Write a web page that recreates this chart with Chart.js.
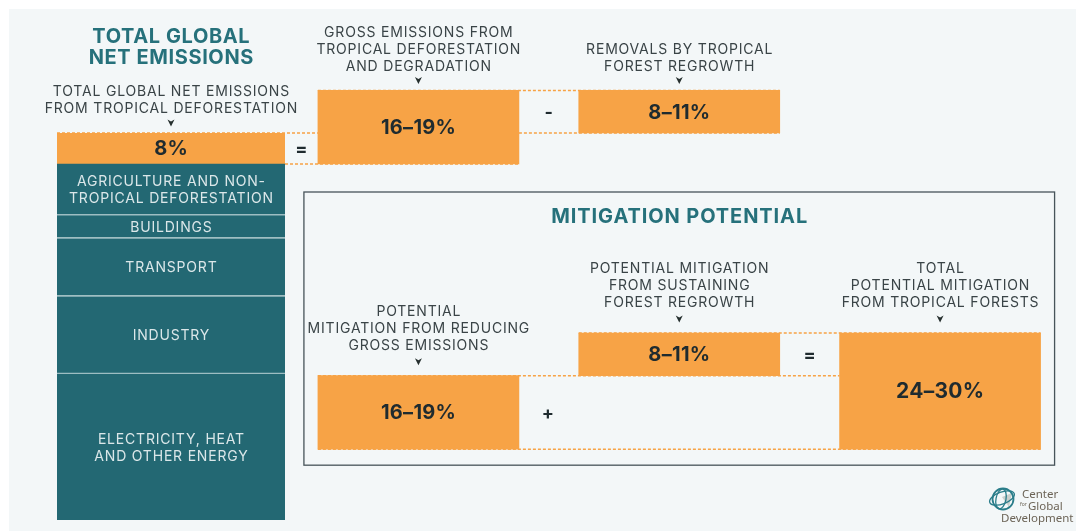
<!DOCTYPE html>
<html><head><meta charset="utf-8">
<script src="https://cdn.jsdelivr.net/npm/chart.js@4"></script>
<style>
html,body{margin:0;padding:0;background:#fff;width:1076px;height:531px;overflow:hidden}
#panel{position:absolute;left:9px;top:9px;width:1067px;height:522px;background:#f3f7f8}
canvas{position:absolute;left:0;top:0}
</style></head><body>
<div id="panel"></div>
<canvas id="a" width="1076" height="531"></canvas>
<canvas id="b" width="1076" height="531"></canvas>
<script>
// ---------------- DATA ----------------
const SECTOR_LABELS = [
  'ELECTRICITY, HEAT\nAND OTHER ENERGY',
  'INDUSTRY',
  'TRANSPORT',
  'BUILDINGS',
  'AGRICULTURE AND NON-\nTROPICAL DEFORESTATION'
];
const SECTOR_SHARES = [38, 20, 15, 6, 13];          // % of total global net emissions
const NET_DEFOR_SHARE = 8;                          // % net emissions from tropical deforestation
const GROSS_EMISSIONS_RANGE = [16, 19];             // %
const REGROWTH_REMOVALS_RANGE = [8, 11];            // %
const REDUCTION_MITIGATION_RANGE = [16, 19];        // %
const REGROWTH_MITIGATION_RANGE = [8, 11];          // %
const TOTAL_MITIGATION_RANGE = [24, 30];            // %
const COLUMN_CATEGORIES = ['Gross emissions / reduction', 'Removals / regrowth', 'Total mitigation'];
const EMISSION_TITLES = [
  'GROSS EMISSIONS FROM\nTROPICAL DEFORESTATION\nAND DEGRADATION',
  'REMOVALS BY TROPICAL\nFOREST REGROWTH'
];
const MITIGATION_TITLES = [
  'POTENTIAL\nMITIGATION FROM REDUCING\nGROSS EMISSIONS',
  'POTENTIAL MITIGATION\nFROM SUSTAINING\nFOREST REGROWTH',
  'TOTAL\nPOTENTIAL MITIGATION\nFROM TROPICAL FORESTS'
];
const NET_TITLE = 'TOTAL GLOBAL\nNET EMISSIONS';
const NET_SUBTITLE = 'TOTAL GLOBAL NET EMISSIONS\nFROM TROPICAL DEFORESTATION';
const MITIGATION_HEADER = 'MITIGATION POTENTIAL';

// ---------------- STYLE ----------------
const TEAL = '#236873', ORANGE = '#f7a346', SEP = '#9dbdc2';
const TITLE_TEAL = '#26717b', TEXT = '#3a4447', DARK = '#1f2b2f', LIGHT = '#dbe7e9';
const FONT = 'Inter, "Open Sans", sans-serif';
const MITIGATION_BASE = 18.3;   // vertical offset of the mitigation waterfall (layout)
const fmt = r => r[0] + '\u2013' + r[1] + '%';

function textLines(ctx, str, x, y, opts) {
  const lines = str.split('\n');
  const lh = opts.lh || 17;
  ctx.save();
  ctx.font = opts.font; ctx.fillStyle = opts.color;
  ctx.textAlign = 'center'; ctx.textBaseline = 'middle';
  const ls = opts.ls || 0;
  ctx.letterSpacing = ls + 'px';
  let y0;
  if (opts.anchor === 'last') y0 = y - (lines.length - 1) * lh;
  else y0 = y - (lines.length - 1) * lh / 2;
  lines.forEach((s, i) => ctx.fillText(s, x + ls / 2, y0 + i * lh + 1));
  ctx.restore();
}
function arrow(ctx, x, y) {
  ctx.save();
  ctx.beginPath();
  ctx.moveTo(x - 3.5, y - 3.5); ctx.lineTo(x, y - 1.5); ctx.lineTo(x + 3.5, y - 3.5); ctx.lineTo(x, y + 3.5);
  ctx.closePath(); ctx.fillStyle = '#26302f'; ctx.fill();
  ctx.restore();
}
function dashed(ctx, x1, x2, y) {
  ctx.save();
  ctx.strokeStyle = ORANGE; ctx.lineWidth = 1.5; ctx.setLineDash([3, 2]);
  ctx.beginPath(); ctx.moveTo(x1, y); ctx.lineTo(x2, y); ctx.stroke();
  ctx.restore();
}
const box = el => ({ l: el.x - el.width / 2, r: el.x + el.width / 2, t: Math.min(el.y, el.base), b: Math.max(el.y, el.base), cx: el.x, cy: (el.y + el.base) / 2 });

const LABEL_FONT = '400 14px ' + FONT;
const LABEL_LS = 0.8;
const VALUE_FONT = '700 20px ' + FONT;

// ---------------- CHART A: stacked net emissions column ----------------
const dsA = SECTOR_SHARES.map((v, i) => ({
  label: SECTOR_LABELS[i], data: [v], backgroundColor: TEAL,
  borderColor: SEP, borderSkipped: 'start',
  borderWidth: i < SECTOR_SHARES.length - 1 ? { top: 1.5, bottom: 0, left: 0, right: 0 } : 0
}));
dsA.push({ label: 'Tropical deforestation', data: [NET_DEFOR_SHARE], backgroundColor: ORANGE, borderWidth: 0 });

const pluginA = {
  id: 'labelsA',
  afterDatasetsDraw(chart) {
    const ctx = chart.ctx;
    chart.data.datasets.forEach((ds, i) => {
      const b = box(chart.getDatasetMeta(i).data[0]);
      if (i < SECTOR_SHARES.length) textLines(ctx, ds.label, b.cx, b.cy + 0.5, { font: LABEL_FONT, color: LIGHT, ls: LABEL_LS, lh: 17 });
      else {
        textLines(ctx, NET_DEFOR_SHARE + '%', b.cx, b.cy, { font: VALUE_FONT, color: DARK, ls: 0.3 });
        textLines(ctx, NET_SUBTITLE, b.cx, b.t - 25, { font: LABEL_FONT, color: TEXT, ls: LABEL_LS, anchor: 'last' });
        arrow(ctx, b.cx, b.t - 10);
        textLines(ctx, NET_TITLE, b.cx, 57, { font: '700 20px ' + FONT, color: TITLE_TEAL, ls: 0.6, lh: 21, anchor: 'last' });
      }
    });
  }
};

const chartA = new Chart(document.getElementById('a'), {
  type: 'bar',
  data: { labels: ['Total global net emissions'], datasets: dsA },
  options: {
    responsive: false, animation: false,
    layout: { padding: { left: 57, right: 791, top: 133, bottom: 11 } },
    datasets: { bar: { barPercentage: 1, categoryPercentage: 1 } },
    scales: {
      x: { display: false, stacked: true },
      y: { display: false, stacked: true, min: 0, max: 100 }
    },
    plugins: { legend: { display: false }, tooltip: { enabled: false } }
  },
  plugins: [pluginA]
});

// ---------------- CHART B: waterfalls ----------------
const grossLow = 100 - NET_DEFOR_SHARE;
const emissionData = [
  [grossLow, grossLow + GROSS_EMISSIONS_RANGE[1]],
  [100, 100 + REGROWTH_REMOVALS_RANGE[1]],
  null
];
const m0 = MITIGATION_BASE;
const mitigationData = [
  [m0, m0 + REDUCTION_MITIGATION_RANGE[1]],
  [m0 + REDUCTION_MITIGATION_RANGE[1], m0 + REDUCTION_MITIGATION_RANGE[1] + REGROWTH_MITIGATION_RANGE[1]],
  [m0, m0 + TOTAL_MITIGATION_RANGE[1]]
];
const emissionValueLabels = [fmt(GROSS_EMISSIONS_RANGE), fmt(REGROWTH_REMOVALS_RANGE)];
const mitigationValueLabels = [fmt(REDUCTION_MITIGATION_RANGE), fmt(REGROWTH_MITIGATION_RANGE), fmt(TOTAL_MITIGATION_RANGE)];

function drawLogo(ctx) {
  ctx.save();
  const cx = 1003, cy = 499;
  ctx.fillStyle = '#c9cfcc';
  ctx.beginPath(); ctx.moveTo(cx - 1, cy - 2); ctx.lineTo(cx + 9, cy - 6); ctx.lineTo(cx + 6, cy + 8); ctx.closePath(); ctx.fill();
  ctx.strokeStyle = '#2a7d8a'; ctx.lineWidth = 1.8;
  ctx.beginPath(); ctx.arc(cx, cy, 10.5, 0, Math.PI * 2); ctx.stroke();
  ctx.lineWidth = 1.3;
  ctx.beginPath(); ctx.ellipse(cx - 1, cy - 1, 13, 6, -0.35, 0, Math.PI * 2); ctx.stroke();
  ctx.beginPath(); ctx.ellipse(cx - 2, cy, 5, 10, 0.2, 0, Math.PI * 2); ctx.stroke();
  ctx.fillStyle = '#6c6457'; ctx.textBaseline = 'middle'; ctx.textAlign = 'left';
  ctx.font = '400 11.5px "Noto Sans", sans-serif';
  ctx.fillText('Center', 1022, 495);
  ctx.fillText('Global', 1028, 507);
  ctx.fillText('Development', 1001, 519);
  ctx.font = '400 5px "Noto Sans", sans-serif';
  ctx.fillText('for', 1020, 505);
  ctx.restore();
}

const pluginB = {
  id: 'labelsB',
  beforeDatasetsDraw(chart) {
    const ctx = chart.ctx;
    const n = box(chartA.getDatasetMeta(SECTOR_SHARES.length).data[0]);
    const e = chart.getDatasetMeta(0).data, m = chart.getDatasetMeta(1).data;
    const g = box(e[0]), r = box(e[1]);
    const a = box(m[0]), c = box(m[1]), t = box(m[2]);
    ctx.save();
    ctx.strokeStyle = '#47545a'; ctx.lineWidth = 1.3;
    ctx.strokeRect(a.l - 14, 192, (t.r + 14) - (a.l - 14), (a.b + 16) - 192);
    ctx.restore();
    dashed(ctx, g.l, r.r, g.t);
    dashed(ctx, n.l, g.l, n.t);
    dashed(ctx, g.r, r.r, r.b);
    dashed(ctx, n.r, g.r, n.b);
    dashed(ctx, c.l, t.r, c.t);
    dashed(ctx, a.l, t.l, a.t);
    dashed(ctx, a.l, t.r, a.b);
  },
  afterDatasetsDraw(chart) {
    const ctx = chart.ctx;
    const n = box(chartA.getDatasetMeta(SECTOR_SHARES.length).data[0]);
    const e = chart.getDatasetMeta(0).data, m = chart.getDatasetMeta(1).data;
    const g = box(e[0]), r = box(e[1]);
    const a = box(m[0]), c = box(m[1]), t = box(m[2]);
    [g, r].forEach((b, i) => {
      textLines(ctx, emissionValueLabels[i], b.cx, b.cy, { font: VALUE_FONT, color: DARK, ls: 0.3 });
      textLines(ctx, EMISSION_TITLES[i], b.cx, b.t - 25, { font: LABEL_FONT, color: TEXT, ls: LABEL_LS, anchor: 'last' });
      arrow(ctx, b.cx, b.t - 10);
    });
    [a, c, t].forEach((b, i) => {
      textLines(ctx, mitigationValueLabels[i], b.cx, b.cy, { font: i === 2 ? '700 21px ' + FONT : VALUE_FONT, color: DARK, ls: 0.3 });
      textLines(ctx, MITIGATION_TITLES[i], b.cx, b.t - 31, { font: LABEL_FONT, color: TEXT, ls: LABEL_LS, anchor: 'last' });
      arrow(ctx, b.cx, b.t - 14);
    });
    const opFont = '700 18px ' + FONT;
    textLines(ctx, '=', (n.r + g.l) / 2, n.cy, { font: opFont, color: DARK });
    textLines(ctx, '-', (g.r + r.l) / 2, r.cy, { font: opFont, color: DARK });
    textLines(ctx, '+', (a.r + c.l) / 2 - 1, a.cy, { font: opFont, color: DARK });
    textLines(ctx, '=', (c.r + t.l) / 2, c.cy, { font: opFont, color: DARK });
    textLines(ctx, MITIGATION_HEADER, (a.l + t.r) / 2, 216, { font: '700 20px ' + FONT, color: TITLE_TEAL, ls: 0.9 });
    drawLogo(ctx);
  }
};

const chartB = new Chart(document.getElementById('b'), {
  type: 'bar',
  data: {
    labels: COLUMN_CATEGORIES,
    datasets: [
      { label: 'Tropical forest emissions', data: emissionData, backgroundColor: ORANGE, borderWidth: 0 },
      { label: 'Mitigation potential', data: mitigationData, backgroundColor: ORANGE, borderWidth: 0 }
    ]
  },
  options: {
    responsive: false, animation: false,
    layout: { padding: { left: 288, right: 5.5, top: 133, bottom: 11 } },
    datasets: { bar: { barThickness: 201, grouped: false, clip: false } },
    scales: {
      x: { display: false },
      y: { display: false, min: 0, max: 100 }
    },
    plugins: { legend: { display: false }, tooltip: { enabled: false } }
  },
  plugins: [pluginB]
});
</script>
</body></html>
